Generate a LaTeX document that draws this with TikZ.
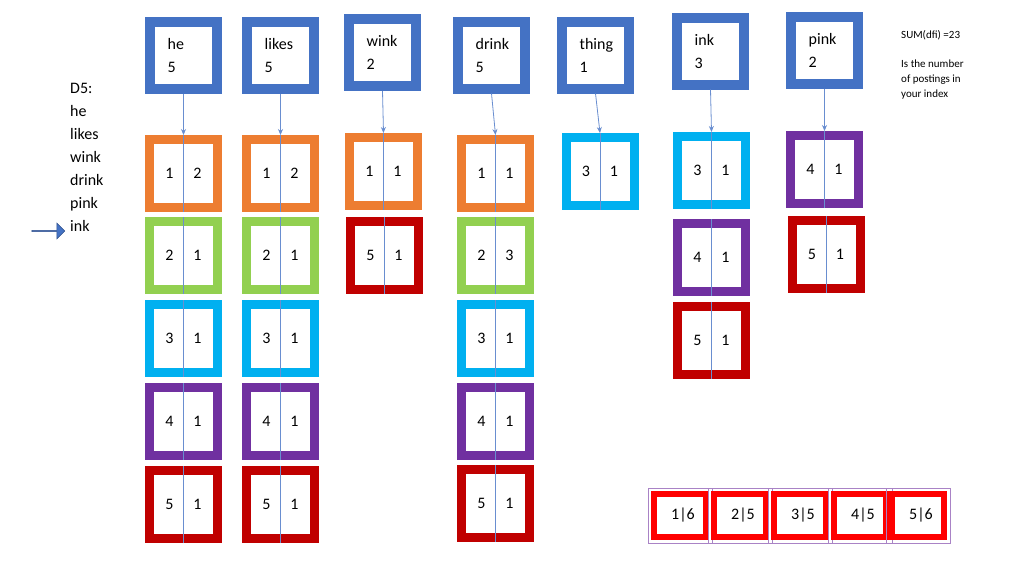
\documentclass[tikz,border=0pt]{standalone}
\usepackage{fontspec}
\setmainfont{Carlito}
\usetikzlibrary{shapes.arrows,arrows.meta,calc}
\definecolor{cblue}{HTML}{4472C4}
\definecolor{corange}{HTML}{ED7D31}
\definecolor{cgreen}{HTML}{92D050}
\definecolor{ccyan}{HTML}{00B0F0}
\definecolor{cpurple}{HTML}{7030A0}
\definecolor{cred}{HTML}{C00000}
\definecolor{bred}{HTML}{FF0000}
\tikzset{
 termbox/.style={draw=cblue,line width=10pt,minimum size=67pt,inner sep=0pt,fill=white},
 postbox/.style={draw=#1,line width=9pt,minimum size=68pt,inner sep=0pt,fill=white},
 num/.style={font=\fontsize{16}{19}\selectfont,inner sep=0pt},
 termtxt/.style={font=\fontsize{16}{23}\selectfont,align=left,inner sep=0pt,anchor=west},
 link/.style={draw=cblue!80,line width=0.8pt},
 arr/.style={link,-{Stealth[length=6pt,width=5pt]}},
 small/.style={font=\fontsize{11}{15}\selectfont,align=left,inner sep=0pt,anchor=north west},
 cell/.style={draw=bred,line width=6pt,minimum width=52pt,minimum height=43pt,inner sep=0pt,fill=white,font=\fontsize{16}{19}\selectfont},
}
\newcommand{\pst}[6]{%
 \node[postbox=#4] (#1) at (#2,#3) {};
 \draw[link] (#1.north) -- (#1.south);
 \node[num] (#1a) at (#2-14,#3) {#5};
 \node[num] (#1b) at (#2+14,#3) {#6};}
\newcommand{\trm}[5]{%
 \node[termbox] (#1) at (#2,#3) {};
 \node[termtxt] (#1t) at (#2-16,#3) {#4\\#5};}
\begin{document}
\begin{tikzpicture}[x=1pt,y=-1pt]
\useasboundingbox (0,0) rectangle (1024,576);
% terms
\trm{he}{183.5}{55}{he}{5}
\trm{likes}{280.5}{55}{likes}{5}
\trm{wink}{382.5}{52.5}{wink}{2}
\trm{drink}{491.5}{55}{drink}{5}
\trm{thing}{595.5}{55}{thing}{1}
\trm{ink}{710.5}{51}{ink}{3}
\trm{pink}{824.5}{50}{pink}{2}
% he
\pst{he1}{183.5}{173.5}{corange}{1}{2}
\pst{he2}{183.5}{255.5}{cgreen}{2}{1}
\pst{he3}{183.5}{338.5}{ccyan}{3}{1}
\pst{he4}{183.5}{421.5}{cpurple}{4}{1}
\pst{he5}{183.5}{504.5}{cred}{5}{1}
% likes
\pst{li1}{280.5}{173.5}{corange}{1}{2}
\pst{li2}{280.5}{255.5}{cgreen}{2}{1}
\pst{li3}{280.5}{338.5}{ccyan}{3}{1}
\pst{li4}{280.5}{421.5}{cpurple}{4}{1}
\pst{li5}{280.5}{504.5}{cred}{5}{1}
% wink
\pst{wi1}{383.5}{171.5}{corange}{1}{1}
\pst{wi2}{384.5}{255.5}{cred}{5}{1}
% drink
\pst{dr1}{495.5}{173.5}{corange}{1}{1}
\pst{dr2}{495.5}{255.5}{cgreen}{2}{3}
\pst{dr3}{495.5}{338.5}{ccyan}{3}{1}
\pst{dr4}{495.5}{421.5}{cpurple}{4}{1}
\pst{dr5}{495.5}{503.5}{cred}{5}{1}
% thing
\pst{th1}{600}{171.5}{ccyan}{3}{1}
% ink
\pst{in1}{711.5}{170.5}{ccyan}{3}{1}
\pst{in2}{711.5}{257.5}{cpurple}{4}{1}
\pst{in3}{711.5}{340.5}{cred}{5}{1}
% pink
\pst{pi1}{824.5}{169.5}{cpurple}{4}{1}
\pst{pi2}{826}{254.5}{cred}{5}{1}
% arrows
\foreach \a/\b in {he/he1,likes/li1,wink/wi1,drink/dr1,thing/th1,ink/in1,pink/pi1}
  \draw[arr] (\a.south) -- (\b.north);
% text
\node[small] (sum) at (901,30) {SUM(dfi) =23};
\node[small] (note) at (901,60) {Is the number\\of postings in\\your index};
\node[termtxt,anchor=north west] (doc) at (70,83) {D5:\\he\\likes\\wink\\drink\\pink\\ink};
\node[single arrow,fill=cblue,draw=cblue!70!black,line width=0.5pt,minimum height=33pt,minimum width=16pt,single arrow head extend=3pt,inner sep=0pt] (pt) at (48,231) {};
% bottom cells
\foreach \i/\x/\t in {1/680/1|6,2/740/2|5,3/800/3|5,4/860/4|5,5/918/5|6}{
  \node[cell] (c\i) at (\x,515.5) {\hspace{6pt}\t};
  \draw[cpurple!60,line width=0.6pt] ($(c\i.north west)+(-3,-3)$) rectangle ($(c\i.south east)+(3,3)$);
}
\end{tikzpicture}
\end{document}
